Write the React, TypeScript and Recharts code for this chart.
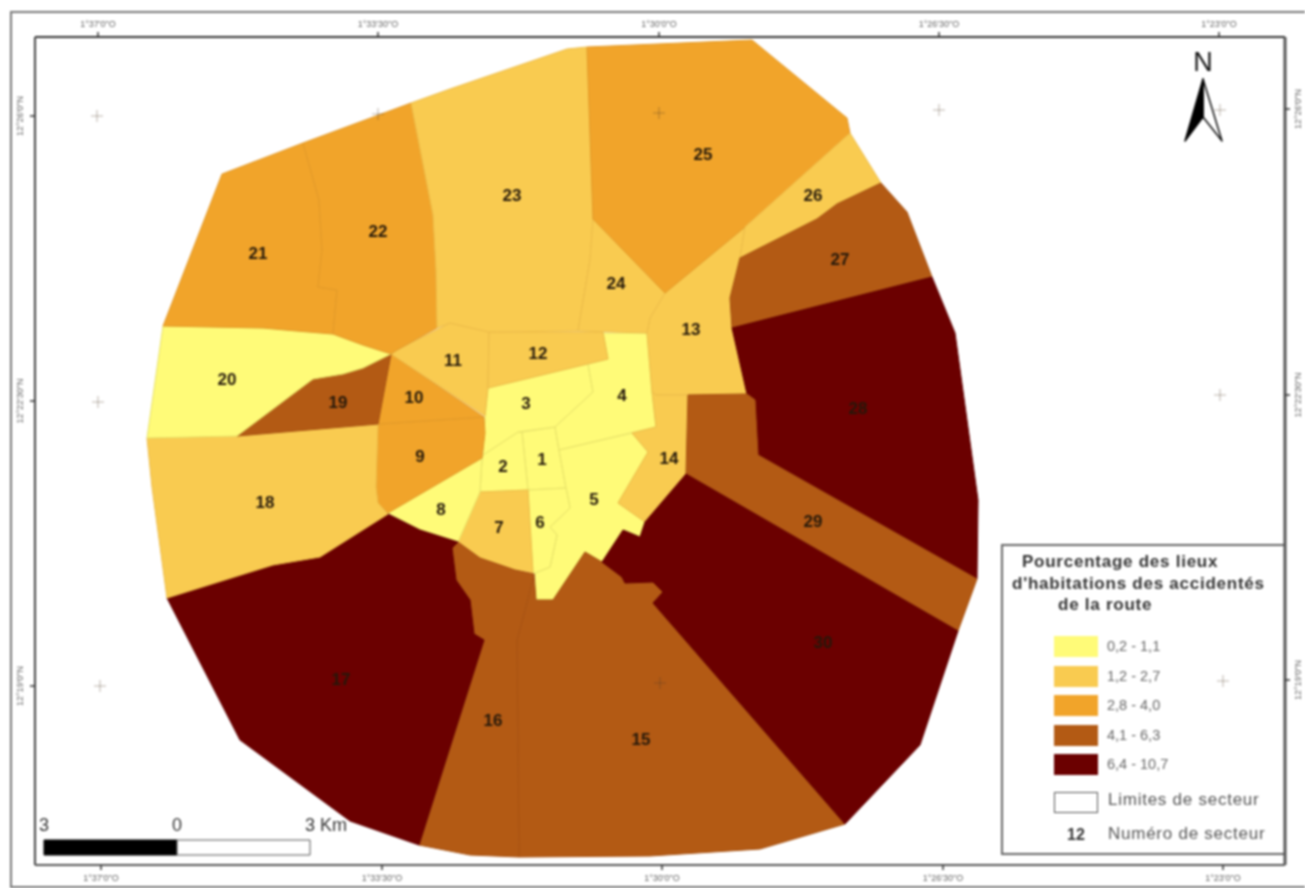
import React from 'react';
import {
  ScatterChart,
  Scatter,
  XAxis,
  YAxis,
  ReferenceArea,
} from 'recharts';

// Map units are the pixels of the scanned sheet
const sector1 = [[522, 432], [555, 427], [559, 450], [566, 488], [528, 490]];
const sector2 = [[483, 455], [518, 432], [522, 432], [528, 490], [480, 492], [482, 460]];
const sector3 = [[488, 388], [588, 364], [593, 392], [555, 427], [518, 432], [483, 455], [485, 417]];
const sector4 = [[603, 333], [647, 333], [652, 392], [656, 427], [559, 450], [555, 427], [593, 392], [588, 364], [608, 359]];
const sector5 = [[559, 450], [632, 433], [648, 452], [618, 503], [645, 522], [640, 537], [625, 530], [602, 562], [585, 552], [553, 600], [536, 600], [535, 573], [550, 567], [557, 535], [550, 527], [570, 508], [566, 488]];
const sector6 = [[528, 490], [566, 488], [570, 508], [550, 527], [557, 535], [550, 567], [535, 573], [533, 573]];
const sector7 = [[480, 492], [528, 490], [533, 573], [515, 570], [480, 558], [458, 542]];
const sector8 = [[482, 458], [480, 492], [458, 542], [420, 530], [388, 513]];
const sector9 = [[378, 424], [484, 417], [485, 433], [482, 458], [388, 513], [378, 503], [376, 487]];
const sector10 = [[391, 354], [484, 417], [378, 424]];
const sector11 = [[397, 350], [450, 323], [489, 332], [488, 388], [485, 416], [391, 354]];
const sector12 = [[489, 332], [603, 332], [608, 359], [488, 388]];
const sector13 = [[665, 293], [745, 227], [740, 258], [730, 298], [732, 328], [740, 355], [747, 394], [656, 395], [652, 392], [647, 333], [650, 318]];
const sector14 = [[656, 427], [652, 392], [656, 395], [688, 395], [686, 474], [645, 522], [618, 503], [648, 452], [632, 433]];
const sector15 = [[534, 574], [536, 600], [553, 600], [585, 552], [602, 562], [622, 577], [625, 583], [653, 582], [663, 592], [653, 603], [845, 824], [760, 849], [650, 856], [519, 857], [517, 640], [525, 610]];
const sector16 = [[452, 548], [458, 542], [480, 558], [515, 570], [534, 574], [525, 610], [517, 640], [519, 857], [470, 855], [419, 845], [484, 640], [474, 634], [470, 600], [456, 580]];
const sector17 = [[167, 598], [273, 565], [320, 557], [388, 514], [420, 530], [458, 542], [452, 548], [456, 580], [470, 600], [474, 634], [484, 640], [419, 845], [350, 821], [240, 740]];
const sector18 = [[147, 438], [237, 436], [378, 424], [376, 487], [378, 503], [388, 514], [320, 557], [273, 565], [167, 598], [152, 487]];
const sector19 = [[391, 354], [363, 368], [343, 374], [313, 379], [237, 436], [378, 424]];
const sector20 = [[163, 326], [263, 328], [297, 331], [333, 334], [363, 345], [391, 354], [363, 368], [343, 374], [313, 379], [237, 436], [147, 438]];
const sector21 = [[222, 174], [303, 143], [319, 200], [322, 250], [318, 287], [337, 290], [333, 334], [297, 331], [263, 328], [163, 326]];
const sector22 = [[303, 143], [411, 103], [433, 215], [436, 270], [437, 328], [397, 350], [391, 354], [363, 345], [333, 334], [337, 290], [318, 287], [322, 250], [319, 200]];
const sector23 = [[411, 103], [450, 89], [567, 49], [587, 47], [593, 219], [590, 260], [578, 331], [489, 332], [450, 323], [437, 328], [436, 270], [433, 215]];
const sector24 = [[593, 219], [665, 293], [650, 318], [647, 333], [578, 331], [590, 260]];
const sector25 = [[587, 47], [752, 40], [847, 118], [850, 133], [745, 227], [665, 293], [593, 219]];
const sector26 = [[850, 133], [881, 183], [837, 204], [817, 219], [740, 258], [745, 227]];
const sector27 = [[881, 183], [907, 212], [932, 277], [847, 300], [732, 328], [730, 298], [740, 258], [817, 219], [837, 204]];
const sector28 = [[732, 328], [932, 277], [955, 333], [978, 500], [977, 579], [758, 455], [755, 400], [747, 394]];
const sector29 = [[688, 395], [747, 394], [755, 400], [758, 455], [977, 579], [958, 631], [686, 474]];
const sector30 = [[686, 474], [958, 631], [920, 745], [845, 824], [653, 603], [663, 592], [653, 582], [625, 583], [622, 577], [602, 562], [623, 530], [640, 537], [645, 522]];

const sectorShapes = [
  sector1, sector2, sector3, sector4, sector5, sector6, sector7, sector8, sector9, sector10,
  sector11, sector12, sector13, sector14, sector15, sector16, sector17, sector18, sector19, sector20,
  sector21, sector22, sector23, sector24, sector25, sector26, sector27, sector28, sector29, sector30,
];

// class index of each sector, 1 to 30
const sectorClass = [0, 0, 0, 0, 0, 0, 1, 0, 2, 2, 1, 1, 1, 1, 3, 3, 4, 1, 3, 0, 2, 2, 1, 1, 2, 1, 3, 4, 3, 4];
const labelX = [542, 503, 526, 622, 594, 540, 499, 441, 420, 414, 453, 538, 691, 669, 641, 493, 341, 265, 338, 227, 258, 378, 512, 616, 703, 813, 840, 858, 813, 823];
const labelY = [459, 466, 403, 395, 499, 522, 527, 509, 456, 397, 360, 353, 329, 458, 739, 720, 679, 502, 402, 379, 253, 231, 195, 283, 154, 195, 259, 408, 521, 642];

const classColors = ['#FFFB78', '#F9CB50', '#F1A42A', '#B35A14', '#6B0000'];
const classBorders = ['#E8E268', '#EDBC48', '#E39A28', '#A85212', '#640000'];
const classNames = ['0,2 - 1,1', '1,2 - 2,7', '2,8 - 4,0', '4,1 - 6,3', '6,4 - 10,7'];

const topTicks = [98, 378, 659, 939, 1219];
const bottomTicks = [101, 382, 662, 943, 1223];
const leftTicks = [116, 401, 686];
const rightTicks = [109, 395, 680];
const lonLabels = ['1°37\'0"O', '1°33\'30"O', '1°30\'0"O', '1°26\'30"O', '1°23\'0"O'];
const latLabels = ['12°26\'0"N', '12°22\'30"N', '12°19\'0"N'];

const crossPoints = [
  [97, 116], [378, 114], [659, 113], [939, 110], [1220, 110],
  [98, 402], [1220, 395], [100, 686], [660, 683], [1223, 681],
];

const arrowLeft = [[1203, 79], [1203, 117], [1185, 141]];
const arrowRight = [[1203, 79], [1222, 141], [1203, 117]];

const toPoints = (list: number[][]) => list.map(([x, y]) => ({ x, y }));

// Scatter hands its joined points to this, so the outline stays on the axis scales
const polygonLine = (fill: string, stroke: string, strokeWidth = 1) => (props: any) => (
  <polygon
    points={props.points.map((p: any) => `${p.x},${p.y}`).join(' ')}
    fill={fill}
    stroke={stroke}
    strokeWidth={strokeWidth}
    strokeLinejoin="round"
  />
);

const noDot = () => <g />;

const Cross = (props: any) => (
  <g stroke="rgba(80,60,40,0.3)" strokeWidth={1.3}>
    <line x1={props.cx - 6} x2={props.cx + 6} y1={props.cy} y2={props.cy} />
    <line x1={props.cx} x2={props.cx} y1={props.cy - 6} y2={props.cy + 6} />
  </g>
);

const SectorNumber = (props: any) => (
  <text
    x={props.cx}
    y={props.cy}
    textAnchor="middle"
    dominantBaseline="central"
    fontFamily="Liberation Sans"
    fontWeight="bold"
    fontSize={17}
    fill="#24180a"
  >
    {props.payload.id}
  </text>
);

const MapText = (props: any) => (
  <text
    x={props.cx}
    y={props.cy}
    textAnchor="middle"
    dominantBaseline="central"
    fontFamily="Liberation Sans"
    fontSize={props.payload.size}
    fill={props.payload.color}
  >
    {props.payload.text}
  </text>
);

const sideTick = (ticks: number[], dx: number) => (props: any) => {
  const label = latLabels[ticks.indexOf(props.payload.value)];
  const x = props.x + dx;
  return (
    <text
      x={x}
      y={props.y}
      transform={`rotate(-90 ${x} ${props.y})`}
      textAnchor="middle"
      fontFamily="Liberation Sans"
      fontSize={9}
      fill="#666"
    >
      {label}
    </text>
  );
};

const lonTick = (value: number, index: number) => lonLabels[index];

const sectorNumbers = labelX.map((x, i) => ({ x, y: labelY[i], id: i + 1 }));
const mapTexts = [
  { x: 1203, y: 62, text: 'N', size: 27, color: '#111' },
  { x: 44, y: 825, text: '3', size: 18, color: '#333' },
  { x: 177, y: 825, text: '0', size: 18, color: '#333' },
  { x: 326, y: 825, text: '3 Km', size: 18, color: '#333' },
];

const sans = 'Liberation Sans';

const MapLegend = () => (
  <div
    style={{
      position: 'absolute',
      left: 1001,
      top: 544,
      width: 281,
      height: 307,
      background: '#fff',
      border: '2px solid #666',
      fontFamily: sans,
    }}
  >
    {['Pourcentage des lieux', "d'habitations des accidentés", 'de la route'].map((line, i) => (
      <div
        key={line}
        style={{
          position: 'absolute',
          left: [19, 9, 55][i],
          top: 6 + i * 21.5,
          fontWeight: 'bold',
          fontSize: 17,
          letterSpacing: 0.75,
          color: '#333',
          whiteSpace: 'nowrap',
        }}
      >
        {line}
      </div>
    ))}
    {classNames.map((name, i) => (
      <React.Fragment key={name}>
        <div
          style={{
            position: 'absolute',
            left: 51,
            top: 90 + i * 29.5,
            width: 44,
            height: 21,
            background: classColors[i],
          }}
        />
        <div
          style={{
            position: 'absolute',
            left: 104,
            top: 92 + i * 29.5,
            fontSize: 14.5,
            color: '#666',
            whiteSpace: 'nowrap',
          }}
        >
          {name}
        </div>
      </React.Fragment>
    ))}
    <div
      style={{
        position: 'absolute',
        left: 51,
        top: 246,
        width: 42,
        height: 19,
        border: '1.5px solid #555',
      }}
    />
    <div style={{ position: 'absolute', left: 105, top: 244, fontSize: 17, letterSpacing: 0.75, color: '#555', whiteSpace: 'nowrap' }}>
      Limites de secteur
    </div>
    <div style={{ position: 'absolute', left: 64, top: 280, fontSize: 16, fontWeight: 'bold', color: '#333' }}>12</div>
    <div style={{ position: 'absolute', left: 105, top: 278, fontSize: 17, letterSpacing: 0.75, color: '#555', whiteSpace: 'nowrap' }}>
      Numéro de secteur
    </div>
  </div>
);

export default function App() {
  return (
    <div
      style={{
        position: 'absolute',
        left: 0,
        top: 0,
        width: 1305,
        height: 888,
        overflow: 'hidden',
        background: '#fff',
        filter: 'blur(0.8px)',
      }}
    >
      <div
        style={{
          position: 'absolute',
          left: 10,
          top: 11,
          width: 1320,
          height: 873,
          border: '2px solid #777',
        }}
      />
      <MapLegend />
      <div style={{ position: 'absolute', left: 0, top: 0 }}>
        <ScatterChart width={1305} height={888} margin={{ top: 12, left: 11, right: 0, bottom: 2 }}>
          <XAxis
            xAxisId="top"
            orientation="top"
            type="number"
            dataKey="x"
            domain={[35, 1285]}
            ticks={topTicks}
            interval={0}
            height={25}
            tickSize={5}
            tickMargin={5}
            tickFormatter={lonTick}
            tick={{ fontFamily: sans, fontSize: 9, fill: '#666' }}
            axisLine={{ stroke: '#333', strokeWidth: 2 }}
            tickLine={{ stroke: '#333', strokeWidth: 1.5 }}
          />
          <XAxis
            xAxisId="bottom"
            orientation="bottom"
            type="number"
            dataKey="x"
            domain={[35, 1285]}
            ticks={bottomTicks}
            interval={0}
            height={21}
            tickSize={5}
            tickMargin={5}
            tickFormatter={lonTick}
            tick={{ fontFamily: sans, fontSize: 9, fill: '#666' }}
            axisLine={{ stroke: '#555', strokeWidth: 2 }}
            tickLine={{ stroke: '#333', strokeWidth: 1.5 }}
          />
          <YAxis
            yAxisId="left"
            orientation="left"
            type="number"
            dataKey="y"
            domain={[37, 865]}
            reversed
            ticks={leftTicks}
            interval={0}
            width={24}
            tickSize={5}
            tick={sideTick(leftTicks, -5)}
            axisLine={{ stroke: '#444', strokeWidth: 2 }}
            tickLine={{ stroke: '#333', strokeWidth: 1.5 }}
          />
          <YAxis
            yAxisId="right"
            orientation="right"
            type="number"
            dataKey="y"
            domain={[37, 865]}
            reversed
            ticks={rightTicks}
            interval={0}
            width={20}
            tickSize={5}
            tick={sideTick(rightTicks, 9)}
            axisLine={{ stroke: '#555', strokeWidth: 3 }}
            tickLine={{ stroke: '#333', strokeWidth: 1.5 }}
          />
          {/* keeps the bottom and right axes alive, they have no other series */}
          <Scatter
            xAxisId="bottom"
            yAxisId="right"
            data={toPoints(crossPoints)}
            shape={noDot}
            isAnimationActive={false}
          />
          {sectorShapes.map((shape, i) => (
            <Scatter
              key={i}
              xAxisId="top"
              yAxisId="left"
              data={toPoints(shape)}
              line={polygonLine(classColors[sectorClass[i]], classBorders[sectorClass[i]])}
              shape={noDot}
              isAnimationActive={false}
            />
          ))}
          <Scatter
            xAxisId="top"
            yAxisId="left"
            data={toPoints(crossPoints)}
            shape={Cross}
            isAnimationActive={false}
          />
          <Scatter
            xAxisId="top"
            yAxisId="left"
            data={toPoints(arrowRight)}
            line={polygonLine('#fff', '#111', 1.5)}
            shape={noDot}
            isAnimationActive={false}
          />
          <Scatter
            xAxisId="top"
            yAxisId="left"
            data={toPoints(arrowLeft)}
            line={polygonLine('#000', '#000', 1.5)}
            shape={noDot}
            isAnimationActive={false}
          />
          <Scatter
            xAxisId="top"
            yAxisId="left"
            data={sectorNumbers}
            shape={SectorNumber}
            isAnimationActive={false}
          />
          <Scatter
            xAxisId="top"
            yAxisId="left"
            data={mapTexts}
            shape={MapText}
            isAnimationActive={false}
          />
          <ReferenceArea xAxisId="top" yAxisId="left" x1={44} x2={177} y1={840} y2={855} fill="#000" fillOpacity={1} stroke="#000" />
          <ReferenceArea xAxisId="top" yAxisId="left" x1={177} x2={310} y1={840} y2={855} fill="#fff" fillOpacity={1} stroke="#555" />
        </ScatterChart>
      </div>
    </div>
  );
}
